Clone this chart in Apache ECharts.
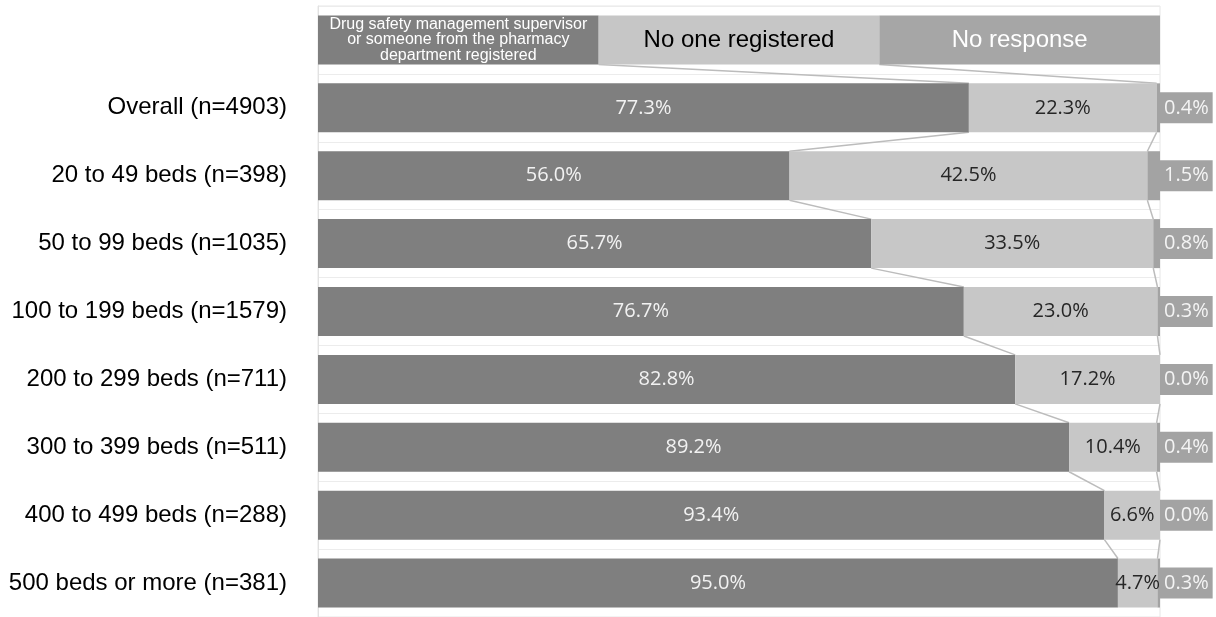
<!DOCTYPE html>
<html>
<head>
<meta charset="utf-8">
<script src="https://cdn.jsdelivr.net/npm/echarts@6/dist/echarts.min.js"></script>
<style>
  html, body { margin: 0; padding: 0; background: #ffffff; }
  #chart { width: 1216px; height: 617px; }
</style>
</head>
<body>
<div id="chart"></div>
<script>
// Hospital groups (top to bottom)
const categories = [
  'Overall (n=4903)',
  '20 to 49 beds (n=398)',
  '50 to 99 beds (n=1035)',
  '100 to 199 beds (n=1579)',
  '200 to 299 beds (n=711)',
  '300 to 399 beds (n=511)',
  '400 to 499 beds (n=288)',
  '500 beds or more (n=381)'
];

// Response shares, percent
const registered   = [77.3, 56.0, 65.7, 76.7, 82.8, 89.2, 93.4, 95.0];
const noOne        = [22.3, 42.5, 33.5, 23.0, 17.2, 10.4, 6.6, 4.7];
const noResponse   = [0.4, 1.5, 0.8, 0.3, 0.0, 0.4, 0.0, 0.3];

// Header row names for the three answer groups
const headerNames = [
  'Drug safety management supervisor\nor someone from the pharmacy\ndepartment registered',
  'No one registered',
  'No response'
];

const DARK = '#7f7f7f';
const LIGHT = '#c7c7c7';
const MID = '#a3a3a3';
const BAR_W = 49;
const third = 100 / 3;

const yCats = [''].concat(categories);
const pct = v => v.toFixed(1) + '%';

// Cumulative boundaries per row (header row split in equal thirds)
const cum1 = [third].concat(registered);
const cum2 = [2 * third].concat(registered.map((v, i) => v + noOne[i]));

// Connector segments between the ends of consecutive rows
const connectors = [];
for (let i = 0; i < yCats.length - 1; i++) {
  connectors.push([cum1[i], i, cum1[i + 1], i + 1]);
  connectors.push([cum2[i], i, cum2[i + 1], i + 1]);
}

const chart = echarts.init(document.getElementById('chart'));

const barLabelFont = { fontFamily: 'Open Sans', fontSize: 20 };

chart.setOption({
  animation: false,
  backgroundColor: '#ffffff',
  grid: {
    left: 318, right: 56, top: 6, height: 615,
    show: true, borderColor: '#e6e6e6', borderWidth: 1, backgroundColor: 'transparent'
  },
  xAxis: {
    type: 'value', min: 0, max: 100,
    axisLabel: { show: false }, axisLine: { show: false },
    axisTick: { show: false }, splitLine: { show: false }
  },
  yAxis: {
    type: 'category', inverse: true, data: yCats,
    axisLine: { show: true, lineStyle: { color: '#e2e2e2' } },
    axisTick: { show: false },
    splitLine: { show: true, lineStyle: { color: '#ececec' } },
    axisLabel: {
      margin: 31, color: '#000000',
      fontFamily: 'Liberation Sans', fontSize: 24
    }
  },
  series: [
    {
      name: headerNames[0], type: 'bar', stack: 'all', barWidth: BAR_W,
      itemStyle: { color: DARK },
      label: {
        show: true, position: 'inside', color: '#f2f2f2', ...barLabelFont,
        formatter: p => pct(p.value)
      },
      data: [{
        value: third,
        label: {
          formatter: headerNames[0], fontFamily: 'Liberation Sans',
          fontSize: 16, lineHeight: 15.5, color: '#ffffff'
        }
      }].concat(registered)
    },
    {
      name: headerNames[1], type: 'bar', stack: 'all', barWidth: BAR_W,
      itemStyle: { color: LIGHT },
      label: {
        show: true, position: 'inside', color: '#262626', ...barLabelFont,
        formatter: p => pct(p.value)
      },
      data: [{
        value: third,
        itemStyle: { color: '#c6c6c6' },
        label: {
          formatter: headerNames[1], fontFamily: 'Liberation Sans',
          fontSize: 24, color: '#000000'
        }
      }].concat(noOne)
    },
    {
      name: headerNames[2], type: 'bar', stack: 'all', barWidth: BAR_W,
      itemStyle: { color: MID },
      label: {
        show: true, position: 'right', distance: 0, color: '#f4f4f4',
        backgroundColor: MID, padding: [6, 4, 5, 4], ...barLabelFont,
        formatter: p => pct(p.value)
      },
      data: [{
        value: third,
        itemStyle: { color: '#a6a6a6' },
        label: {
          position: 'inside', formatter: headerNames[2], backgroundColor: 'transparent',
          padding: 0, fontFamily: 'Liberation Sans', fontSize: 24, color: '#ffffff'
        }
      }].concat(noResponse)
    },
    {
      // connector lines joining the segment boundaries of neighbouring rows
      type: 'custom',
      silent: true,
      encode: { x: [0, 2], y: [1, 3] },
      renderItem: (params, api) => {
        const a = api.coord([api.value(0), api.value(1)]);
        const b = api.coord([api.value(2), api.value(3)]);
        return {
          type: 'line',
          shape: { x1: a[0], y1: a[1] + BAR_W / 2, x2: b[0], y2: b[1] - BAR_W / 2 },
          style: { stroke: '#bcbcbc', lineWidth: 1.5 }
        };
      },
      data: connectors,
      z: 1
    }
  ]
});
</script>
</body>
</html>
